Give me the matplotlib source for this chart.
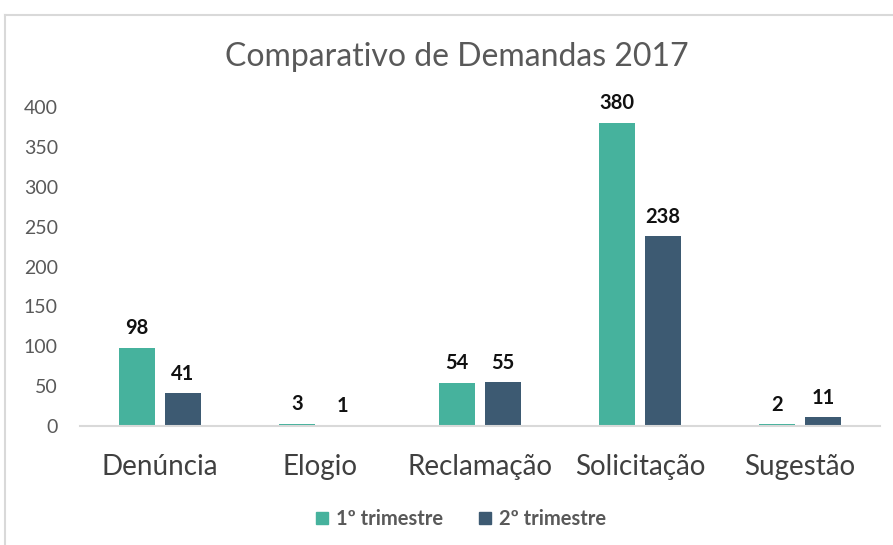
import matplotlib
matplotlib.use("Agg")
import matplotlib.pyplot as plt
import numpy as np
from matplotlib.patches import Rectangle
from matplotlib.lines import Line2D

categories = ["Denúncia", "Elogio", "Reclamação", "Solicitação", "Sugestão"]
tri1 = [98, 3, 54, 380, 2]
tri2 = [41, 1, 55, 238, 11]
series_names = ["1º trimestre", "2º trimestre"]
yticks = [0, 50, 100, 150, 200, 250, 300, 350, 400]

plt.rcParams['font.family'] = ['Lato', 'DejaVu Sans']

W, H = 893, 545
fig = plt.figure(figsize=(W/100, H/100), dpi=100)

# outer frame lines (top and left)
fig.add_artist(Line2D([5/W, 5/W], [0, 1 - 15/H], color="#D9D9D9", lw=1.5, transform=fig.transFigure))
fig.add_artist(Line2D([5/W, 1], [1 - 15/H, 1 - 15/H], color="#D9D9D9", lw=1.5, transform=fig.transFigure))

ax_left, ax_right = 80/W, 880/W
ax_bottom, ax_top = 1 - 426/H, 1 - 107/H
ax = fig.add_axes([ax_left, ax_bottom, ax_right - ax_left, ax_top - ax_bottom])

x = np.arange(len(categories))
w = 0.225
off = 0.143
c1, c2 = "#46B29D", "#3D5A72"
b1 = ax.bar(x - off, tri1, w, color=c1, label=series_names[0])
b2 = ax.bar(x + off, tri2, w, color=c2, label=series_names[1])

for bars, vals in ((b1, tri1), (b2, tri2)):
    for r, v in zip(bars, vals):
        ax.text(r.get_x() + r.get_width()/2, v + 12, str(v), ha="center", va="bottom",
                fontsize=14.5, fontweight="bold", color="#111111")

ax.set_xlim(-0.5, len(categories) - 0.5)
ax.set_ylim(0, 400)
ax.set_yticks(yticks)
ax.set_yticklabels([str(t) for t in yticks], fontsize=14, color="#595959")
ax.set_xticks(x)
ax.set_xticklabels(categories, fontsize=20, color="#404040")
ax.tick_params(axis="both", length=0)
ax.tick_params(axis="y", pad=16)
ax.tick_params(axis="x", pad=20)
for s in ["top", "right", "left"]:
    ax.spines[s].set_visible(False)
ax.spines["bottom"].set_color("#D9D9D9")
ax.spines["bottom"].set_linewidth(1.5)

fig.text(457/W, 1 - 57/H, "Comparativo de Demandas 2017", ha="center", va="center",
         fontsize=23, color="#595959")

handles = [Rectangle((0, 0), 1, 1, color=c1), Rectangle((0, 0), 1, 1, color=c2)]
leg = fig.legend(handles, series_names, loc="center", bbox_to_anchor=(461/W, 1 - 519/H),
                 ncol=2, frameon=False, handlelength=0.6, handleheight=0.6,
                 handletextpad=0.4, columnspacing=1.8,
                 prop={"size": 14.5, "weight": "bold"})
for t in leg.get_texts():
    t.set_color("#595959")

fig.savefig("out.png", dpi=100)
